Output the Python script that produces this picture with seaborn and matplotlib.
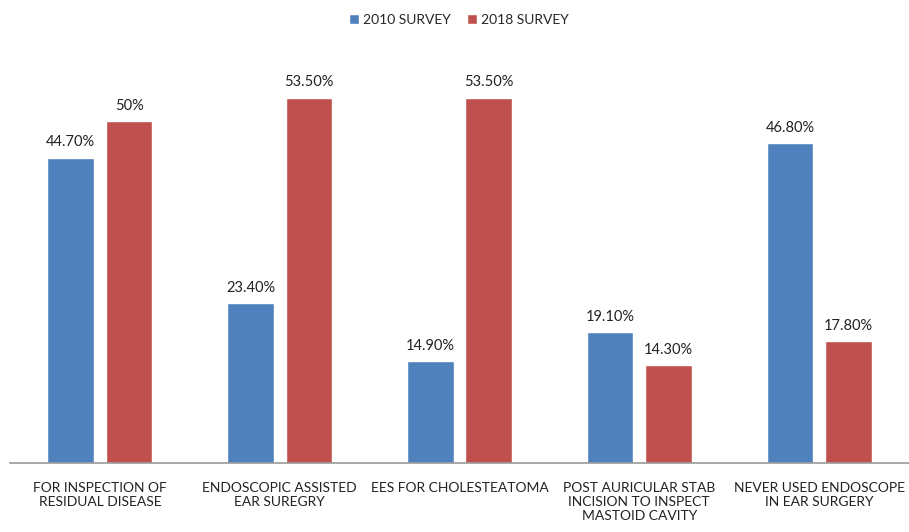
import matplotlib
matplotlib.use('Agg')
import matplotlib.pyplot as plt
import pandas as pd
import seaborn as sns

categories = ['FOR INSPECTION OF\nRESIDUAL DISEASE',
              'ENDOSCOPIC ASSISTED\nEAR SUREGRY',
              'EES FOR CHOLESTEATOMA',
              'POST AURICULAR STAB\nINCISION TO INSPECT\nMASTOID CAVITY',
              'NEVER USED ENDOSCOPE\nIN EAR SURGERY']
survey_2010 = [44.7, 23.4, 14.9, 19.1, 46.8]
survey_2018 = [50.0, 53.5, 53.5, 14.3, 17.8]
labels_2010 = ['44.70%', '23.40%', '14.90%', '19.10%', '46.80%']
labels_2018 = ['50%', '53.50%', '53.50%', '14.30%', '17.80%']
series = ['2010 SURVEY', '2018 SURVEY']

df = pd.DataFrame({
    'category': categories * 2,
    'value': survey_2010 + survey_2018,
    'survey': [series[0]] * 5 + [series[1]] * 5,
})

sns.set_style('white')
plt.rcParams['font.family'] = ['Lato', 'DejaVu Sans']

fig = plt.figure(figsize=(9.09, 5.32), dpi=100)
ax = fig.add_axes([0.011, 0.13, 0.989, 0.77])
sns.barplot(data=df, x='category', y='value', hue='survey',
            palette=['#4F81BD', '#C0504D'], width=0.65, gap=0.2,
            saturation=1, ax=ax)

for cont, labs in zip(ax.containers, [labels_2010, labels_2018]):
    ax.bar_label(cont, labels=labs, padding=6, fontsize=10.5, color='#222222')

ax.set_ylim(0, 60)
ax.set_xlim(-0.5, 4.5)
ax.set(xlabel='', ylabel='')
ax.set_yticks([])
for s in ['top', 'right', 'left']:
    ax.spines[s].set_visible(False)
ax.spines['bottom'].set_color('#999999')
ax.spines['bottom'].set_linewidth(1.2)
ax.tick_params(axis='x', length=0, pad=14, labelsize=10, labelcolor='#222222')

handles, labels = ax.get_legend_handles_labels()
ax.get_legend().remove()
fig.legend(handles, labels, loc='center', bbox_to_anchor=(0.505, 0.962), ncol=2,
           frameon=False, fontsize=10, handlelength=0.7, handleheight=0.7,
           handletextpad=0.3, columnspacing=1.2)

fig.savefig('out.png', dpi=100)
